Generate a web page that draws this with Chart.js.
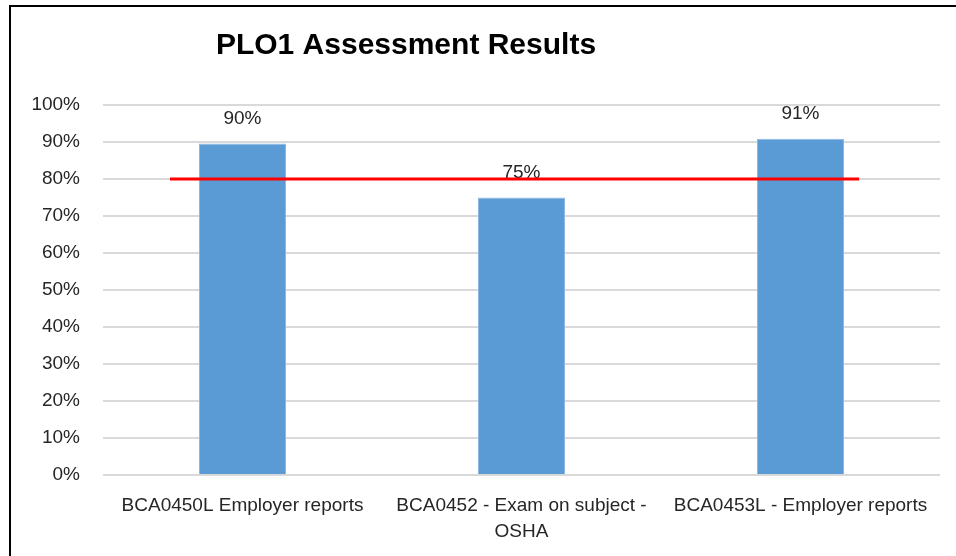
<!DOCTYPE html>
<html>
<head>
<meta charset="utf-8">
<script src="https://cdn.jsdelivr.net/npm/chart.js"></script>
<style>
  html, body { margin: 0; padding: 0; background: #fff; }
  #wrap { position: absolute; left: 0; top: 0; width: 956px; height: 556px; }
  #frame { position: absolute; left: 9px; top: 5px; width: 947px; height: 551px;
           border-left: 2px solid #000; border-top: 2px solid #000; box-sizing: border-box; }
  canvas { position: absolute; left: 0; top: 0; }
</style>
</head>
<body>
<div id="wrap">
  <div id="frame"></div>
  <canvas id="chart" width="956" height="556"></canvas>
</div>
<script>
// Daten aus der Vorlage
const kategorien = [
    ['BCA0450L Employer reports'],
    ['BCA0452 - Exam on subject -', 'OSHA'],
    ['BCA0453L - Employer reports']
];
const ergebnisse = [89.6, 75, 90.9];
const zielWert = 80;
const zielBereich = [-0.26, 2.21];
const yTicks = [0, 10, 20, 30, 40, 50, 60, 70, 80, 90, 100];
const titelText = 'PLO1 Assessment Results';

const schrift = "'Liberation Sans', Arial, sans-serif";

// Titel an fester Stelle zeichnen (wie im Original leicht links)
const titelPlugin = {
    id: 'titel',
    afterDraw(chart) {
        const ctx = chart.ctx;
        ctx.save();
        ctx.font = "bold 30px " + schrift;
        ctx.fillStyle = '#000';
        ctx.textAlign = 'center';
        ctx.textBaseline = 'middle';
        ctx.fillText(titelText, 406, 46);
        ctx.restore();
    }
};

// Wertbeschriftungen über den Balken (unter der roten Linie)
const wertPlugin = {
    id: 'werte',
    afterDatasetDraw(chart, args) {
        if (args.index !== 0) return;
        const ctx = chart.ctx;
        ctx.save();
        ctx.font = "19px " + schrift;
        ctx.fillStyle = '#262626';
        ctx.textAlign = 'center';
        ctx.textBaseline = 'middle';
        args.meta.data.forEach((bar, i) => {
            ctx.fillText(Math.round(ergebnisse[i]) + '%', bar.x, bar.y - 25);
        });
        ctx.restore();
    }
};

new Chart(document.getElementById('chart'), {
    type: 'bar',
    data: {
        labels: kategorien,
        datasets: [{
            type: 'bar',
            data: ergebnisse,
            backgroundColor: '#5B9BD5',
            borderColor: '#8FB9E3',
            borderWidth: 1,
            grouped: false,
            categoryPercentage: 1,
            barPercentage: 0.312,
            order: 1
        }, {
            type: 'line',
            xAxisID: 'x2',
            data: zielBereich.map(x => ({ x: x, y: zielWert })),
            borderColor: '#FF0000',
            borderWidth: 3,
            pointRadius: 0,
            fill: false,
            order: 0
        }]
    },
    options: {
        responsive: false,
        animation: false,
        layout: { padding: { top: 105, right: 16, left: 10, bottom: 0 } },
        plugins: {
            legend: { display: false },
            title: { display: false },
            tooltip: { enabled: false }
        },
        scales: {
            x: {
                type: 'category',
                offset: true,
                grid: { display: false },
                border: { display: false },
                ticks: {
                    font: { family: schrift, size: 19, lineHeight: 1.37 },
                    color: '#262626',
                    padding: 10,
                    maxRotation: 0,
                    autoSkip: false
                },
                afterFit(scale) { scale.height = 81; }
            },
            x2: {
                type: 'linear',
                display: false,
                offset: false,
                min: -0.5,
                max: 2.5
            },
            y: {
                min: 0,
                max: 100,
                afterBuildTicks(scale) { scale.ticks = yTicks.map(v => ({ value: v })); },
                grid: { color: '#D9D9D9', lineWidth: 2, drawTicks: false },
                border: { display: false },
                ticks: {
                    font: { family: schrift, size: 19 },
                    color: '#262626',
                    padding: 23,
                    callback: v => v + '%'
                },
                afterFit(scale) { scale.width = 93; }
            }
        }
    },
    plugins: [titelPlugin, wertPlugin]
});
</script>
</body>
</html>
